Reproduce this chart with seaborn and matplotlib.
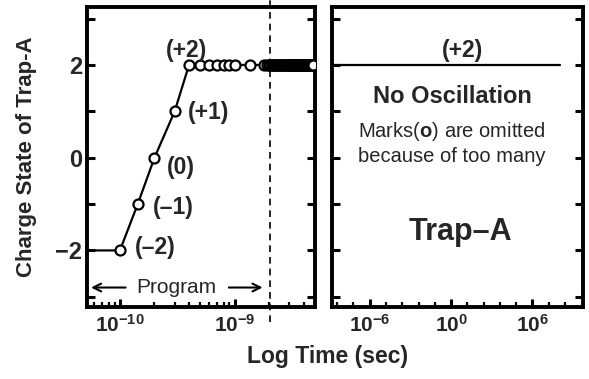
import numpy as np
import pandas as pd
import matplotlib
matplotlib.use("Agg")
import matplotlib.pyplot as plt
import matplotlib.ticker as mticker
import seaborn as sns

# ---------------- data ----------------
# left panel: program phase (line), first point at the axis edge
line_t = [5.0e-11, 1.0e-10, 1.43e-10, 2.0e-10, 3.0e-10, 4.0e-10, 1.0e-9, 5.0e-9]
line_q = [-2, -2, -1, 0, 1, 2, 2, 2]

mark_t = [1.0e-10, 1.43e-10, 2.0e-10, 3.0e-10, 4.0e-10,
          5.0e-10, 6.0e-10, 7.0e-10, 8.0e-10, 9.0e-10, 1.0e-9,
          1.37e-9, 1.8e-9, 1.9e-9, 2.0e-9, 2.05e-9, 2.1e-9, 2.15e-9, 2.2e-9,
          2.25e-9, 2.3e-9, 2.35e-9, 2.4e-9, 2.45e-9, 2.5e-9, 2.55e-9, 2.6e-9,
          2.65e-9, 2.7e-9, 2.75e-9, 2.8e-9, 2.85e-9, 2.9e-9, 2.95e-9, 3.0e-9,
          3.05e-9, 3.1e-9, 3.15e-9, 3.2e-9, 3.25e-9, 3.3e-9, 3.35e-9, 3.4e-9,
          3.45e-9, 3.5e-9, 3.55e-9, 3.6e-9, 3.65e-9, 3.7e-9, 3.75e-9, 3.8e-9,
          3.85e-9, 3.9e-9, 3.95e-9, 4.0e-9, 4.05e-9, 4.1e-9, 4.15e-9, 4.2e-9,
          4.25e-9, 4.3e-9, 4.35e-9, 4.4e-9, 4.45e-9, 4.5e-9, 4.55e-9, 4.6e-9,
          4.65e-9, 4.7e-9, 4.75e-9, 4.8e-9]
mark_q = [-2, -1, 0, 1, 2] + [2] * 66

state_labels = ["(+2)", "(+1)", "(0)", "(\u20131)", "(\u20132)"]
state_t = [3.8e-10, 3.9e-10, 2.56e-10, 1.94e-10, 1.35e-10]
state_q = [2.32, 0.97, -0.21, -1.07, -1.94]

# right panel: retention phase
ret_t = [1.0e-9, 1.0e8]
ret_q = [2, 2]

dash_t = 2.05e-9

left_xticks = [1e-10, 1e-9]
right_xticks = [1e-6, 1e0, 1e6]
yticks = [-3, -2, -1, 0, 1, 2, 3]
ytick_labels = {-2: "\u22122", 0: "0", 2: "2"}

# ---------------- style ----------------
sns.set_theme(style="ticks")
plt.rcParams["font.family"] = ["Liberation Sans", "DejaVu Sans"]
plt.rcParams["mathtext.fontset"] = "custom"
plt.rcParams["mathtext.rm"] = "Liberation Sans:bold"
plt.rcParams["mathtext.it"] = "Liberation Sans:bold"
plt.rcParams["mathtext.bf"] = "Liberation Sans:bold"
plt.rcParams["axes.unicode_minus"] = True

fig = plt.figure(figsize=(5.89, 3.79), dpi=100)
axL = fig.add_axes([87 / 589, 1 - 307 / 379, 228 / 589, 300 / 379])
axR = fig.add_axes([332 / 589, 1 - 307 / 379, 251 / 589, 300 / 379])

df_line = pd.DataFrame({"t": line_t, "q": line_q})
df_mark = pd.DataFrame({"t": mark_t, "q": mark_q})
df_ret = pd.DataFrame({"t": ret_t, "q": ret_q})

sns.lineplot(data=df_line, x="t", y="q", ax=axL, color="black", lw=1.6,
             sort=False, estimator=None, legend=False)
sns.scatterplot(data=df_mark, x="t", y="q", ax=axL, marker="o", s=52,
                facecolor="white", edgecolor="black", linewidth=1.6,
                legend=False, zorder=3)
sns.lineplot(data=df_ret, x="t", y="q", ax=axR, color="black", lw=1.6,
             sort=False, estimator=None, legend=False)

sci = mticker.FuncFormatter(lambda v, p: r"$10^{%d}$" % int(round(np.log10(v))))

for ax in (axL, axR):
    ax.set_xscale("log")
    ax.set_ylim(-3.22, 3.25)
    ax.set_xlabel("")
    ax.set_ylabel("")
    for s in ax.spines.values():
        s.set_linewidth(2.8)
        s.set_color("black")
    ax.yaxis.set_major_locator(mticker.FixedLocator(yticks))
    ax.tick_params(axis="both", which="major", direction="in", length=6,
                   width=2.2, color="black", labelsize=15)
    ax.tick_params(axis="y", which="both", left=True, right=True, labelsize=17)
    ax.tick_params(axis="x", which="minor", direction="in", length=3.5,
                   width=1.6, color="black")
    ax.tick_params(axis="x", which="both", top=False, pad=5)

axL.set_xlim(10 ** -10.287, 10 ** -8.30)
axR.set_xlim(10 ** -8.78, 10 ** 9.73)

axL.yaxis.set_major_formatter(mticker.FuncFormatter(
    lambda v, p: ytick_labels.get(int(round(v)), "")))
for lab in axL.get_yticklabels():
    lab.set_fontweight("bold")
axR.tick_params(axis="y", labelleft=False)

axL.xaxis.set_major_locator(mticker.FixedLocator(left_xticks))
axL.xaxis.set_major_formatter(sci)
axL.xaxis.set_minor_locator(mticker.FixedLocator(
    [m * 10.0 ** e for e in (-11, -10, -9) for m in range(2, 10)]))
axL.xaxis.set_minor_formatter(mticker.NullFormatter())

axR.xaxis.set_major_locator(mticker.FixedLocator(right_xticks))
axR.xaxis.set_major_formatter(sci)
axR.xaxis.set_minor_locator(mticker.FixedLocator(
    [10 ** e for e in [-8.4, -7.2, -4.8, -3.6, -2.4, -1.2, 1.2, 2.4, 3.6, 4.8, 7.2, 8.4]]))
axR.xaxis.set_minor_formatter(mticker.NullFormatter())

# dashed separator extending beyond the axes
axL.axvline(dash_t, ymin=-0.05, ymax=1.03, color="black", lw=1.2,
            ls=(0, (4, 3)), clip_on=False, zorder=1)

# state labels
axL.text(state_t[0], state_q[0], state_labels[0], ha="center", va="center",
         fontsize=16.5, fontweight="bold")
for lab, t, q in zip(state_labels[1:], state_t[1:], state_q[1:]):
    axL.text(t, q, lab, ha="left", va="center", fontsize=16.5, fontweight="bold")

# program arrows
axL.text(3.1e-10, -2.8, "Program", ha="center", va="center", fontsize=15)
axL.annotate("", xy=(5.6e-11, -2.8), xytext=(1.12e-10, -2.8),
             arrowprops=dict(arrowstyle="->", lw=1.5, color="black",
                             mutation_scale=14, shrinkA=0, shrinkB=0))
axL.annotate("", xy=(1.75e-9, -2.8), xytext=(8.9e-10, -2.8),
             arrowprops=dict(arrowstyle="->", lw=1.5, color="black",
                             mutation_scale=14, shrinkA=0, shrinkB=0))

# right panel annotations
trR = axR.get_yaxis_transform()
axR.text(0.518, 2.32, "(+2)", transform=trR, ha="center", va="center",
         fontsize=16.5, fontweight="bold")
axR.text(0.478, 1.31, "No Oscillation", transform=trR, ha="center", va="center",
         fontsize=17, fontweight="bold")
axR.text(0.478, 0.56, r"Marks($\mathrm{o}$) are omitted", transform=trR,
         ha="center", va="center", fontsize=14.5)
axR.text(0.478, 0.02, "because of too many", transform=trR, ha="center",
         va="center", fontsize=14.5)
axR.text(0.51, -1.6, "Trap\u2013A", transform=trR, ha="center", va="center",
         fontsize=22, fontweight="bold")

fig.text(27 / 589, 1 - 157 / 379, "Charge State of Trap-A", rotation=90,
         ha="center", va="center", fontsize=16, fontweight="bold")
fig.text(328 / 589, 1 - 356 / 379, "Log Time (sec)", ha="center", va="center",
         fontsize=16.5, fontweight="bold")

fig.savefig("out.png", dpi=100)
